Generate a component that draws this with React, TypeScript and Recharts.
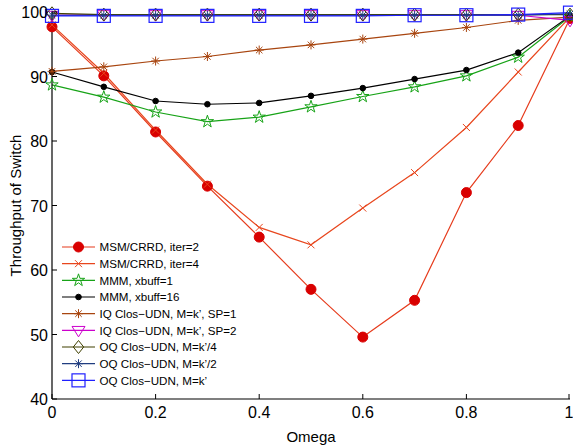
import React from "react";
import { LineChart, Line, XAxis, YAxis, Legend } from "recharts";

const omega = [0, 0.1, 0.2, 0.3, 0.4, 0.5, 0.6, 0.7, 0.8, 0.9, 1];
const msmIter2 = [97.7, 90.1, 81.4, 73.0, 65.1, 57.0, 49.6, 55.3, 72.0, 82.4, 99.0];
const msmIter4 = [98.0, 90.5, 81.7, 73.3, 66.6, 63.9, 69.6, 75.1, 82.1, 90.7, 99.2];
const mmmXbuff1 = [88.7, 86.8, 84.5, 83.0, 83.7, 85.3, 86.9, 88.4, 90.1, 93.0, 99.3];
const mmmXbuff16 = [90.7, 88.4, 86.2, 85.7, 85.9, 87.0, 88.2, 89.6, 91.0, 93.7, 99.4];
const iqSp1 = [90.8, 91.5, 92.4, 93.1, 94.1, 94.9, 95.8, 96.7, 97.6, 98.7, 99.2];
const iqSp2 = [99.5, 99.6, 99.6, 99.6, 99.6, 99.6, 99.6, 99.6, 99.6, 99.5, 98.7];
const oqK4 = [99.8, 99.6, 99.6, 99.6, 99.6, 99.6, 99.6, 99.6, 99.6, 99.6, 99.6];
const oqK2 = [99.5, 99.5, 99.5, 99.5, 99.5, 99.5, 99.5, 99.5, 99.5, 99.5, 99.7];
const oqK = [99.4, 99.4, 99.4, 99.4, 99.4, 99.4, 99.4, 99.5, 99.5, 99.6, 99.9];

const xTicks = [0, 0.2, 0.4, 0.6, 0.8, 1];
const yTicks = [40, 50, 60, 70, 80, 90, 100];

const seriesNames = [
  "MSM/CRRD, iter=2",
  "MSM/CRRD, iter=4",
  "MMM, xbuff=1",
  "MMM, xbuff=16",
  "IQ Clos\u2212UDN, M=k\u2019, SP=1",
  "IQ Clos\u2212UDN, M=k\u2019, SP=2",
  "OQ Clos\u2212UDN, M=k\u2019/4",
  "OQ Clos\u2212UDN, M=k\u2019/2",
  "OQ Clos\u2212UDN, M=k\u2019",
];

const data = omega.map((x, i) => ({
  x,
  s0: msmIter2[i],
  s1: msmIter4[i],
  s2: mmmXbuff1[i],
  s3: mmmXbuff16[i],
  s4: iqSp1[i],
  s5: iqSp2[i],
  s6: oqK4[i],
  s7: oqK2[i],
  s8: oqK[i],
}));

const FONT = '"Liberation Sans", Arial, sans-serif';

type Kind = "circle" | "x" | "star" | "dot" | "asterisk" | "tri" | "diamond" | "square";

const styles: { color: string; markerColor: string; kind: Kind }[] = [
  { color: "#e63b1c", markerColor: "#d90000", kind: "circle" },
  { color: "#e8461d", markerColor: "#e8461d", kind: "x" },
  { color: "#17a317", markerColor: "#17a317", kind: "star" },
  { color: "#000000", markerColor: "#000000", kind: "dot" },
  { color: "#a8450f", markerColor: "#a8450f", kind: "asterisk" },
  { color: "#cc00cc", markerColor: "#cc00cc", kind: "tri" },
  { color: "#404000", markerColor: "#404000", kind: "diamond" },
  { color: "#203d80", markerColor: "#203d80", kind: "asterisk" },
  { color: "#2020ff", markerColor: "#2020ff", kind: "square" },
];

function marker(kind: Kind, c: string, cx: number, cy: number, key?: string | number) {
  switch (kind) {
    case "circle":
      return <circle key={key} cx={cx} cy={cy} r={5} fill={c} stroke={c} strokeWidth={1} />;
    case "x": {
      const s = 3.5;
      return (
        <g key={key} stroke={c} strokeWidth={1}>
          <line x1={cx - s} y1={cy - s} x2={cx + s} y2={cy + s} />
          <line x1={cx - s} y1={cy + s} x2={cx + s} y2={cy - s} />
        </g>
      );
    }
    case "star": {
      const R = 6.5;
      const r = R * 0.382;
      const pts: string[] = [];
      for (let k = 0; k < 10; k++) {
        const a = -Math.PI / 2 + (k * Math.PI) / 5;
        const rr = k % 2 === 0 ? R : r;
        pts.push(`${cx + rr * Math.cos(a)},${cy + rr * Math.sin(a)}`);
      }
      return <polygon key={key} points={pts.join(" ")} fill="none" stroke={c} strokeWidth={1} />;
    }
    case "dot":
      return <circle key={key} cx={cx} cy={cy} r={2.8} fill={c} stroke={c} />;
    case "asterisk": {
      const s = 4.5;
      const d = s * 0.72;
      return (
        <g key={key} stroke={c} strokeWidth={1}>
          <line x1={cx - s} y1={cy} x2={cx + s} y2={cy} />
          <line x1={cx} y1={cy - s} x2={cx} y2={cy + s} />
          <line x1={cx - d} y1={cy - d} x2={cx + d} y2={cy + d} />
          <line x1={cx - d} y1={cy + d} x2={cx + d} y2={cy - d} />
        </g>
      );
    }
    case "tri": {
      const s = 6.5;
      return (
        <polygon
          key={key}
          points={`${cx - s},${cy - s * 0.6} ${cx + s},${cy - s * 0.6} ${cx},${cy + s}`}
          fill="none"
          stroke={c}
          strokeWidth={1}
        />
      );
    }
    case "diamond": {
      const s = 6.5;
      return (
        <polygon
          key={key}
          points={`${cx},${cy - s} ${cx + s * 0.8},${cy} ${cx},${cy + s} ${cx - s * 0.8},${cy}`}
          fill="none"
          stroke={c}
          strokeWidth={1}
        />
      );
    }
    case "square": {
      const s = 6.5;
      return <rect key={key} x={cx - s} y={cy - s} width={2 * s} height={2 * s} fill="none" stroke={c} strokeWidth={1.2} />;
    }
  }
  return null;
}

const BottomTick = (props: any) => {
  const { x, y, payload } = props;
  return (
    <g>
      <line x1={x} y1={y} x2={x} y2={y - 5} stroke="#000" />
      <text x={x} y={y + 19} textAnchor="middle" fontSize={16} fontFamily={FONT} fill="#000">
        {String(payload.value)}
      </text>
    </g>
  );
};
const TopTick = (props: any) => {
  const { x, y } = props;
  return <line x1={x} y1={y} x2={x} y2={y + 5} stroke="#000" />;
};
const LeftTick = (props: any) => {
  const { x, y, payload } = props;
  return (
    <g>
      <line x1={x} y1={y} x2={x + 5} y2={y} stroke="#000" />
      <text x={x - 4} y={y + 6} textAnchor="end" fontSize={16} fontFamily={FONT} fill="#000">
        {String(payload.value)}
      </text>
    </g>
  );
};
const RightTick = (props: any) => {
  const { x, y } = props;
  return <line x1={x} y1={y} x2={x - 5} y2={y} stroke="#000" />;
};

const LegendContent = () => {
  const rowH = 16.67;
  return (
    <svg width={250} height={160} style={{ display: "block" }}>
      {seriesNames.map((name, i) => {
        const st = styles[i];
        const y = 9 + i * rowH;
        return (
          <g key={name}>
            <line x1={7} y1={y} x2={40} y2={y} stroke={st.color} strokeWidth={1.2} />
            {marker(st.kind, st.markerColor, 23.5, y)}
            <text x={44.5} y={y + 4.2} fontSize={11.6} fontFamily={FONT} fill="#000">
              {name}
            </text>
          </g>
        );
      })}
    </svg>
  );
};

export default function App() {
  return (
    <div style={{ position: "absolute", left: 0, top: 0, background: "#fff" }}>
      <LineChart width={573} height={445} data={data} margin={{ top: 12, right: 3, left: 0, bottom: 0 }}>
        <XAxis
          dataKey="x"
          type="number"
          domain={[0, 1]}
          ticks={xTicks}
          height={46}
          tickSize={0}
          tickMargin={0}
          tick={<BottomTick />}
          axisLine={{ stroke: "#000", strokeWidth: 1.2 }}
          tickLine={false}
          label={{ value: "Omega", position: "insideBottom", offset: 3, fontSize: 15, fontFamily: FONT, fill: "#000" }}
        />
        <XAxis
          xAxisId="top"
          dataKey="x"
          type="number"
          orientation="top"
          domain={[0, 1]}
          ticks={xTicks}
          height={0}
          tickSize={0}
          tickMargin={0}
          tick={<TopTick />}
          axisLine={{ stroke: "#000", strokeWidth: 1.2 }}
          tickLine={false}
        />
        <YAxis
          type="number"
          domain={[40, 100]}
          ticks={yTicks}
          width={52}
          tickSize={0}
          tickMargin={0}
          tick={<LeftTick />}
          axisLine={{ stroke: "#000", strokeWidth: 1.2 }}
          tickLine={false}
          label={{
            value: "Throughput of Switch",
            angle: -90,
            position: "insideLeft",
            offset: 16,
            style: { textAnchor: "middle" },
            fontSize: 15,
            fontFamily: FONT,
            fill: "#000",
          }}
        />
        <YAxis
          yAxisId="right"
          type="number"
          orientation="right"
          domain={[40, 100]}
          ticks={yTicks}
          width={0}
          tickSize={0}
          tickMargin={0}
          tick={<RightTick />}
          axisLine={{ stroke: "#000", strokeWidth: 1.2 }}
          tickLine={false}
        />
        {styles.map((st, i) => (
          <Line
            key={i}
            dataKey={`s${i}`}
            name={seriesNames[i]}
            type="linear"
            stroke={st.color}
            strokeWidth={1.2}
            isAnimationActive={false}
            dot={(p: any) => marker(st.kind, st.markerColor, p.cx, p.cy, `d${i}-${p.index}`)}
            activeDot={false}
          />
        ))}
        <Legend
          layout="horizontal"
          verticalAlign="middle"
          align="center"
          content={<LegendContent />}
          wrapperStyle={{ position: "absolute", left: 55, top: 238, width: 250, height: 160 }}
        />
      </LineChart>
    </div>
  );
}
